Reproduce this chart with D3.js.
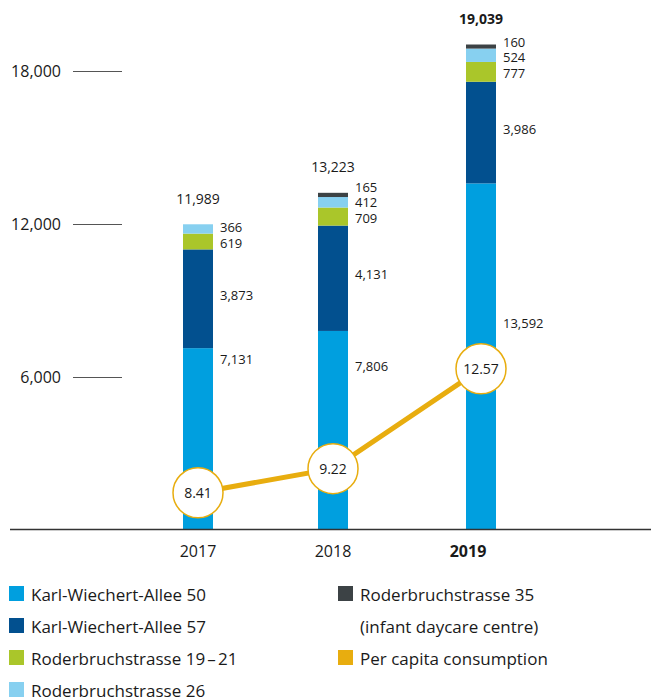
<!DOCTYPE html>
<meta charset="utf-8">
<script src="https://d3js.org/d3.v7.min.js"></script>
<style>
  body { margin: 0; background: #fff; }
  text { font-family: "Open Sans", "Noto Sans", sans-serif; fill: #1a1a1a; }
</style>
<div id="chart"></div>
<script>
// data
const years = ["2017", "2018", "2019"];
const kwa50 = [7131, 7806, 13592];
const kwa57 = [3873, 4131, 3986];
const rb1921 = [619, 709, 777];
const rb26 = [366, 412, 524];
const rb35 = [0, 165, 160]; // no value in 2017
const totals = [11989, 13223, 19039];
const perCapita = [8.41, 9.22, 12.57];
const yTicks = [6000, 12000, 18000];

const keys = ["kwa50", "kwa57", "rb1921", "rb26", "rb35"];
const colors = {
  kwa50: "#009fdf", kwa57: "#02508f", rb1921: "#aac62a",
  rb26: "#87d0f0", rb35: "#3c4245", line: "#e8ad0f"
};

const rows = years.map((y, i) => ({
  year: y, kwa50: kwa50[i], kwa57: kwa57[i], rb1921: rb1921[i],
  rb26: rb26[i], rb35: rb35[i], total: totals[i], pc: perCapita[i]
}));

const width = 651, height = 700;
const svg = d3.select("#chart").append("svg")
  .attr("width", width).attr("height", height);

// scales
const x = d3.scalePoint().domain(years).range([198, 468]);
const barW = 30;
// the highlighted year's bar sits a bit right of its label
const barX = d => x(d) + (d === "2019" ? 13 : 0);
const y = d3.scaleLinear().domain([0, 18000]).range([530, 71]);
const yLine = d3.scaleLinear().domain([8, 13]).range([505, 356]);

// y axis (tick lines left of the bars)
svg.append("g")
  .attr("transform", "translate(122,0)")
  .call(d3.axisLeft(y).tickValues(yTicks).tickSize(49).tickPadding(12).tickFormat(d3.format(",")))
  .call(g => g.select(".domain").remove())
  .call(g => g.selectAll(".tick line").attr("stroke", "#555").attr("stroke-width", 1.2))
  .call(g => g.selectAll(".tick text").attr("font-size", 16).attr("fill", "#1a1a1a")
    .attr("font-family", "'Open Sans', sans-serif"));

// stacked bars
const stack = d3.stack().keys(keys)(rows);
svg.append("g").selectAll("g")
  .data(stack)
  .join("g")
    .attr("fill", s => colors[s.key])
  .selectAll("rect")
  .data(s => s)
  .join("rect")
    .attr("x", d => barX(d.data.year) - barW / 2)
    .attr("width", barW)
    .attr("y", d => y(d[1]))
    .attr("height", d => y(d[0]) - y(d[1]));

// baseline
svg.append("line")
  .attr("x1", 10).attr("x2", width)
  .attr("y1", y(0) - 0.5).attr("y2", y(0) - 0.5)
  .attr("stroke", "#333").attr("stroke-width", 1.5);

// year labels
svg.append("g").selectAll("text")
  .data(years)
  .join("text")
    .attr("x", d => x(d))
    .attr("y", y(0) + 21)
    .attr("text-anchor", "middle")
    .attr("dominant-baseline", "central")
    .attr("font-size", 16)
    .attr("font-weight", d => d === "2019" ? 700 : 400)
    .text(d => d);

// value labels
const fmt = d3.format(",");
const labels = [];
const base50Offset = { "2017": 11, "2018": 35, "2019": 140 };
rows.forEach(r => {
  const lx = barX(r.year) + barW / 2 + 7;
  const top50 = y(r.kwa50);
  labels.push({ x: lx, y: top50 + base50Offset[r.year], t: fmt(r.kwa50) });
  const top57 = y(r.kwa50 + r.kwa57);
  labels.push({ x: lx, y: (top50 + top57) / 2 - 4, t: fmt(r.kwa57) });
  const topG = y(r.kwa50 + r.kwa57 + r.rb1921);
  const gy = (top57 + topG) / 2 + 1;
  labels.push({ x: lx, y: gy, t: fmt(r.rb1921) });
  labels.push({ x: lx, y: gy - 15.5, t: fmt(r.rb26) });
  if (r.rb35 > 0) labels.push({ x: lx, y: gy - 31, t: fmt(r.rb35) });
});
svg.append("g").selectAll("text")
  .data(labels)
  .join("text")
    .attr("x", d => d.x)
    .attr("y", d => d.y)
    .attr("dominant-baseline", "central")
    .attr("font-size", 13)
    .text(d => d.t);

// totals
svg.append("g").selectAll("text")
  .data(rows)
  .join("text")
    .attr("x", d => barX(d.year))
    .attr("y", d => y(d.total) - 26)
    .attr("text-anchor", "middle")
    .attr("dominant-baseline", "central")
    .attr("font-size", 14)
    .attr("font-weight", d => d.year === "2019" ? 700 : 400)
    .text(d => fmt(d.total));

// per capita line
const line = d3.line().x(d => barX(d.year)).y(d => yLine(d.pc));
svg.append("path")
  .datum(rows)
  .attr("d", line)
  .attr("fill", "none")
  .attr("stroke", colors.line)
  .attr("stroke-width", 5);

const pts = svg.append("g").selectAll("g")
  .data(rows)
  .join("g")
    .attr("transform", d => `translate(${barX(d.year)},${yLine(d.pc)})`);
pts.append("circle")
  .attr("r", 25)
  .attr("fill", "#fff")
  .attr("stroke", colors.line)
  .attr("stroke-width", 1.5);
pts.append("text")
  .attr("text-anchor", "middle")
  .attr("dominant-baseline", "central")
  .attr("font-size", 14)
  .text(d => d.pc.toFixed(2));

// legend
const legend = [
  { key: "kwa50", label: ["Karl-Wiechert-Allee 50"], col: 0, row: 0 },
  { key: "kwa57", label: ["Karl-Wiechert-Allee 57"], col: 0, row: 1 },
  { key: "rb1921", label: ["Roderbruchstrasse 19\u202F\u2013\u202F21"], col: 0, row: 2 },
  { key: "rb26", label: ["Roderbruchstrasse 26"], col: 0, row: 3 },
  { key: "rb35", label: ["Roderbruchstrasse 35", "(infant daycare centre)"], col: 1, row: 0 },
  { key: "line", label: ["Per capita consumption"], col: 1, row: 2 }
];
const colX = [9, 338], rowY0 = 594, rowH = 32;
const lg = svg.append("g").selectAll("g")
  .data(legend)
  .join("g")
    .attr("transform", d => `translate(${colX[d.col]},${rowY0 + d.row * rowH})`);
lg.append("rect")
  .attr("x", 0).attr("y", -8)
  .attr("width", 15).attr("height", 15)
  .attr("fill", d => colors[d.key]);
lg.each(function(d) {
  d3.select(this).selectAll("text")
    .data(d.label)
    .join("text")
      .attr("x", 22)
      .attr("y", (t, i) => i * rowH)
      .attr("dominant-baseline", "central")
      .attr("font-size", 17)
      .text(t => t);
});
</script>
